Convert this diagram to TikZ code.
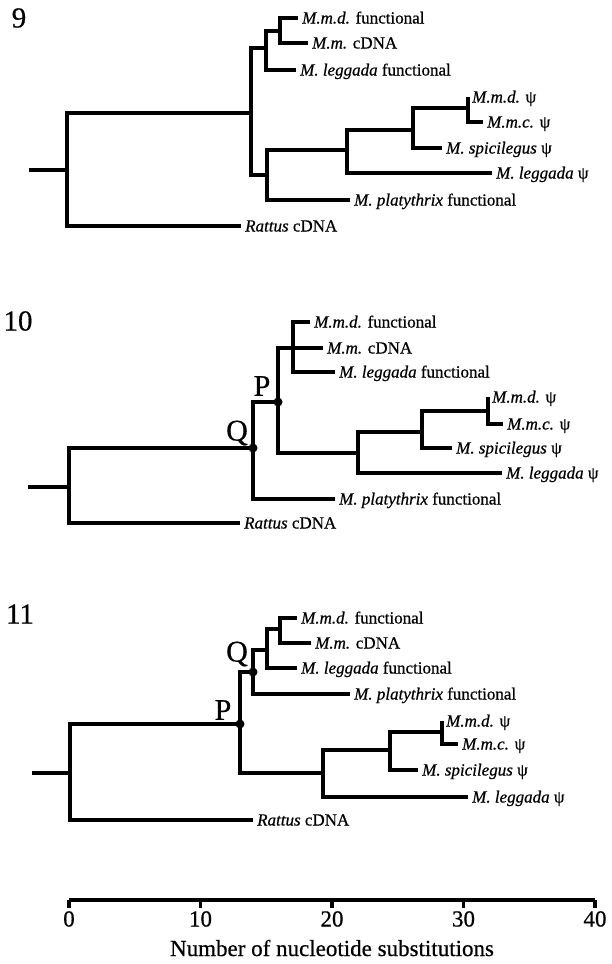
\documentclass[tikz,border=0pt]{standalone}
\usepackage{fontspec}
\setmainfont{Liberation Serif}[FakeBold=0.6]
\begin{document}
\begin{tikzpicture}[x=1pt,y=-1pt,
  br/.style={line width=3.3pt, line join=miter},
  leaf/.style={anchor=west, inner sep=0pt, text height=13pt, text depth=2pt, xshift=4pt, font=\fontsize{17}{20}\selectfont},
  big/.style={inner sep=0pt, font=\fontsize{29}{32}\selectfont},
  pq/.style={inner sep=0pt, font=\fontsize{30}{32}\selectfont},
  dotnode/.style={circle, fill=black, inner sep=0pt, minimum size=9pt},
  ax/.style={inner sep=0pt, font=\fontsize{23}{26}\selectfont}]
\useasboundingbox (0,0) rectangle (611,964);

% ---------------- Tree 9 ----------------
\node[big] (num9) at (19,18) {9};
\coordinate (s9) at (29,170);
\coordinate (r9) at (67,170);
\coordinate (n9a) at (251,113);
\coordinate (n9b) at (266,48);
\coordinate (n9c) at (280,31);
\coordinate (n9d) at (267,175);
\coordinate (n9e) at (347,150);
\coordinate (n9f) at (413,130);
\coordinate (n9g) at (468,108);
\coordinate (t9a) at (298,18);
\coordinate (t9b) at (308,43);
\coordinate (t9c) at (296,70);
\coordinate (t9d) at (468,97);
\coordinate (t9e) at (483,122);
\coordinate (t9f) at (442,148);
\coordinate (t9g) at (492,173);
\coordinate (t9h) at (350,200);
\coordinate (t9i) at (241,226);
\draw[br] (s9) -- (r9);
\draw[br] (r9) |- (n9a);
\draw[br] (r9) |- (t9i);
\draw[br] (n9a) |- (n9b);
\draw[br] (n9a) |- (n9d);
\draw[br] (n9b) |- (n9c);
\draw[br] (n9b) |- (t9c);
\draw[br] (n9c) |- (t9a);
\draw[br] (n9c) |- (t9b);
\draw[br] (n9d) |- (n9e);
\draw[br] (n9d) |- (t9h);
\draw[br] (n9e) |- (n9f);
\draw[br] (n9e) |- (t9g);
\draw[br] (n9f) |- (n9g);
\draw[br] (n9f) |- (t9f);
\draw[br] (n9g) |- (t9d);
\draw[br] (n9g) |- (t9e);
\node[leaf] (l9a) at (t9a) {\textit{M.m.d.} functional};
\node[leaf] (l9b) at (t9b) {\textit{M.m.} cDNA};
\node[leaf] (l9c) at (t9c) {\textit{M. leggada} functional};
\node[leaf] (l9d) at (t9d) {\textit{M.m.d.} ψ};
\node[leaf] (l9e) at (t9e) {\textit{M.m.c.} ψ};
\node[leaf] (l9f) at (t9f) {\textit{M. spicilegus} ψ};
\node[leaf] (l9g) at (t9g) {\textit{M. leggada} ψ};
\node[leaf] (l9h) at (t9h) {\textit{M. platythrix} functional};
\node[leaf] (l9i) at (t9i) {\textit{Rattus} cDNA};

% ---------------- Tree 10 ----------------
\node[big] (num10) at (18,321) {10};
\coordinate (s10) at (28,487);
\coordinate (r10) at (69,487);
\coordinate (q10) at (253,448);
\coordinate (p10) at (278,402);
\coordinate (n10f) at (293,348);
\coordinate (n10g) at (358,453);
\coordinate (n10h) at (422,432);
\coordinate (n10i) at (488,411);
\coordinate (t10a) at (310,322);
\coordinate (t10b) at (323,348);
\coordinate (t10c) at (335,372);
\coordinate (t10d) at (488,397);
\coordinate (t10e) at (503,424);
\coordinate (t10f) at (452,448);
\coordinate (t10g) at (502,473);
\coordinate (t10h) at (335,499);
\coordinate (t10i) at (240,523);
\draw[br] (s10) -- (r10);
\draw[br] (r10) |- (q10);
\draw[br] (r10) |- (t10i);
\draw[br] (q10) |- (p10);
\draw[br] (q10) |- (t10h);
\draw[br] (p10) |- (n10f);
\draw[br] (p10) |- (n10g);
\draw[br] (n10f) |- (t10a);
\draw[br] (n10f) |- (t10b);
\draw[br] (n10f) |- (t10c);
\draw[br] (n10g) |- (n10h);
\draw[br] (n10g) |- (t10g);
\draw[br] (n10h) |- (n10i);
\draw[br] (n10h) |- (t10f);
\draw[br] (n10i) |- (t10d);
\draw[br] (n10i) |- (t10e);
\node[dotnode] (dq10) at (q10) {};
\node[dotnode] (dp10) at (p10) {};
\node[pq] (lq10) at (237,433) {Q};
\node[pq] (lp10) at (262,386) {P};
\node[leaf] (l10a) at (t10a) {\textit{M.m.d.} functional};
\node[leaf] (l10b) at (t10b) {\textit{M.m.} cDNA};
\node[leaf] (l10c) at (t10c) {\textit{M. leggada} functional};
\node[leaf] (l10d) at (t10d) {\textit{M.m.d.} ψ};
\node[leaf] (l10e) at (t10e) {\textit{M.m.c.} ψ};
\node[leaf] (l10f) at (t10f) {\textit{M. spicilegus} ψ};
\node[leaf] (l10g) at (t10g) {\textit{M. leggada} ψ};
\node[leaf] (l10h) at (t10h) {\textit{M. platythrix} functional};
\node[leaf] (l10i) at (t10i) {\textit{Rattus} cDNA};

% ---------------- Tree 11 ----------------
\node[big] (num11) at (20,614) {11};
\coordinate (s11) at (32,773);
\coordinate (r11) at (70,773);
\coordinate (p11) at (240,724);
\coordinate (q11) at (253,672);
\coordinate (n11k) at (267,650);
\coordinate (n11l) at (280,629);
\coordinate (n11j) at (323,773);
\coordinate (n11m) at (390,750);
\coordinate (n11n) at (442,732);
\coordinate (t11a) at (297,618);
\coordinate (t11b) at (311,643);
\coordinate (t11c) at (297,668);
\coordinate (t11h) at (350,694);
\coordinate (t11d) at (442,721);
\coordinate (t11e) at (458,744);
\coordinate (t11f) at (418,770);
\coordinate (t11g) at (468,797);
\coordinate (t11i) at (253,820);
\draw[br] (s11) -- (r11);
\draw[br] (r11) |- (p11);
\draw[br] (r11) |- (t11i);
\draw[br] (p11) |- (q11);
\draw[br] (p11) |- (n11j);
\draw[br] (q11) |- (n11k);
\draw[br] (q11) |- (t11h);
\draw[br] (n11k) |- (n11l);
\draw[br] (n11k) |- (t11c);
\draw[br] (n11l) |- (t11a);
\draw[br] (n11l) |- (t11b);
\draw[br] (n11j) |- (n11m);
\draw[br] (n11j) |- (t11g);
\draw[br] (n11m) |- (n11n);
\draw[br] (n11m) |- (t11f);
\draw[br] (n11n) |- (t11d);
\draw[br] (n11n) |- (t11e);
\node[dotnode] (dp11) at (p11) {};
\node[dotnode] (dq11) at (q11) {};
\node[pq] (lp11) at (223,710) {P};
\node[pq] (lq11) at (237,654) {Q};
\node[leaf] (l11a) at (t11a) {\textit{M.m.d.} functional};
\node[leaf] (l11b) at (t11b) {\textit{M.m.} cDNA};
\node[leaf] (l11c) at (t11c) {\textit{M. leggada} functional};
\node[leaf] (l11h) at (t11h) {\textit{M. platythrix} functional};
\node[leaf] (l11d) at (t11d) {\textit{M.m.d.} ψ};
\node[leaf] (l11e) at (t11e) {\textit{M.m.c.} ψ};
\node[leaf] (l11f) at (t11f) {\textit{M. spicilegus} ψ};
\node[leaf] (l11g) at (t11g) {\textit{M. leggada} ψ};
\node[leaf] (l11i) at (t11i) {\textit{Rattus} cDNA};

% ---------------- Axis ----------------
\coordinate (a0) at (69,900);
\coordinate (a40) at (595,900);
\draw[line width=3.3pt] (a0) -- (a40);
\foreach \v/\xx in {0/69,10/200.5,20/332,30/463.5,40/595} {
  \draw[line width=3.3pt] (\xx,900) -- (\xx,908);
  \node[ax, anchor=north] (tick\v) at (\xx,911) {\v};
}
\node[ax, anchor=base] (axtitle) at (332,956) {Number of nucleotide substitutions};
\end{tikzpicture}
\end{document}
